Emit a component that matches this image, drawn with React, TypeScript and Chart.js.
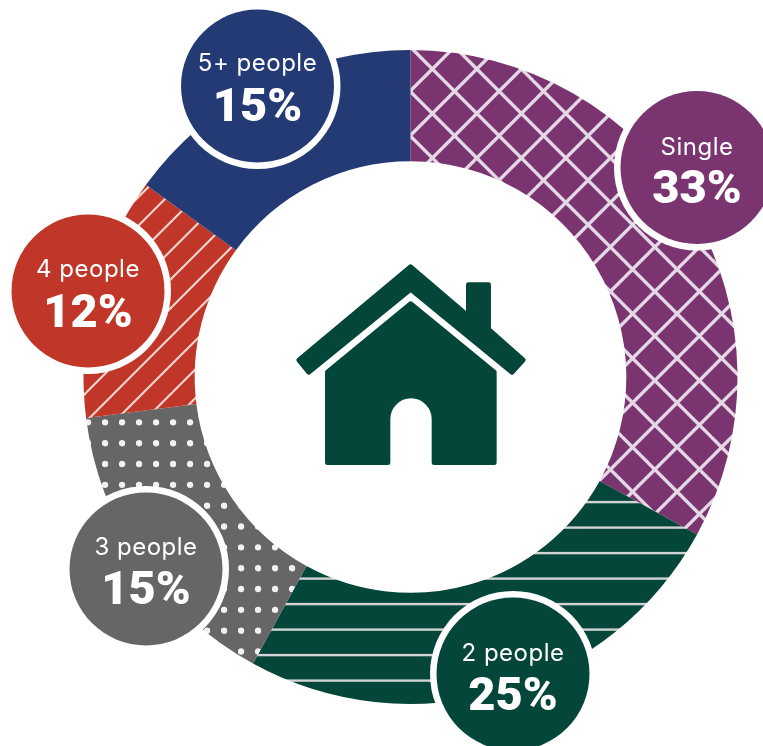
import React, { useEffect, useRef } from "react";
import { Chart, registerables } from "chart.js";

Chart.register(...registerables);

const categories = ["Single", "2 people", "3 people", "4 people", "5+ people"];
const shares = [33, 25, 15, 12, 15];
const colors = ["#7A3571", "#05463A", "#666666", "#C03629", "#243A75"];

const WIDTH = 763;
const HEIGHT = 746;

// Callout discs, in the order of the categories.
const discX = [697, 513, 146, 88, 257.5];
const discY = [167.5, 674, 569, 291, 86];
const labelDy = [-12.5, -13, -14, -14, -15];
const percentDy = [35.5, 36, 35, 36, 35];

function tile(
  w: number,
  h: number,
  base: string,
  paint: (c: CanvasRenderingContext2D) => void
): CanvasPattern {
  const cv = document.createElement("canvas");
  cv.width = w;
  cv.height = h;
  const c = cv.getContext("2d") as CanvasRenderingContext2D;
  c.fillStyle = base;
  c.fillRect(0, 0, w, h);
  paint(c);
  return c.createPattern(cv, "repeat") as CanvasPattern;
}

// Parallel 45-degree lines over a square tile; each line overshoots the tile so it wraps cleanly.
function diagonals(c: CanvasRenderingContext2D, size: number, step: number, offset: number, rising: boolean) {
  const dir = rising ? -1 : 1;
  for (let v = offset - size * 4; v < size * 5; v += step) {
    c.beginPath();
    c.moveTo(v - dir * size, -size);
    c.lineTo(v + dir * size * 2, size * 2);
    c.stroke();
  }
}

function makeFills(): CanvasPattern[] {
  const lattice = tile(89, 89, colors[0], (c) => {
    c.strokeStyle = "#E5D8E6";
    c.lineWidth = 3.4;
    diagonals(c, 89, 44.5, 11.8, true);
    diagonals(c, 89, 44.5, 7.3, false);
  });
  const rows = tile(40, 51, colors[1], (c) => {
    c.fillStyle = "#D2D4D3";
    c.fillRect(0, 16.4, 40, 2.4);
    c.fillRect(0, 41.9, 40, 2.4);
  });
  const dots = tile(17, 125, colors[2], (c) => {
    c.fillStyle = "#F2F2F2";
    for (let i = 0; i < 6; i++) {
      c.beginPath();
      c.arc(3, 5.7 + i * (125 / 6), 3.2, 0, Math.PI * 2);
      c.fill();
    }
  });
  const hatch = tile(86, 86, colors[3], (c) => {
    c.strokeStyle = "#F1D6D0";
    c.lineWidth = 2.1;
    diagonals(c, 86, 86 / 3, 20.1, true);
  });
  return [lattice, rows, dots, hatch, colors[4] as unknown as CanvasPattern];
}

// House pictogram in the hole of the ring.
function drawHouse(c: CanvasRenderingContext2D) {
  c.save();
  c.translate(280, 250);
  c.scale(1 / 3, 1 / 3);
  c.fillStyle = colors[1];
  c.strokeStyle = colors[1];
  c.lineJoin = "round";
  c.lineWidth = 14;

  const roof = new Path2D(
    "M392 50 L565 198 L565 104 L626 104 L626 238 L730 330 L696 367 L392 118 L86 367 L56 330 Z"
  );
  c.fill(roof);
  c.stroke(roof);

  const body = new Path2D(
    "M392 161 L643 366 L643 638 L462 638 L462 507 A69 69 0 0 0 324 507 L324 638 L142 638 L142 366 Z"
  );
  c.fill(body);
  c.stroke(body);
  c.restore();
}

const overlay = {
  id: "overlay",
  afterDatasetsDraw(chart: Chart) {
    const c = chart.ctx as CanvasRenderingContext2D & { letterSpacing: string };
    c.save();
    drawHouse(c);
    categories.forEach((name, i) => {
      c.beginPath();
      c.arc(discX[i], discY[i], 83, 0, Math.PI * 2);
      c.fillStyle = "#FFFFFF";
      c.fill();
      c.beginPath();
      c.arc(discX[i], discY[i], 76.5, 0, Math.PI * 2);
      c.fillStyle = colors[i];
      c.fill();

      c.fillStyle = "#FFFFFF";
      c.textAlign = "center";
      c.textBaseline = "alphabetic";
      c.font = "400 24px Inter";
      c.letterSpacing = "0.5px";
      c.fillText(name, discX[i], discY[i] + labelDy[i]);
      c.font = "900 47px Roboto";
      c.letterSpacing = "0px";
      c.fillText(`${shares[i]}%`, discX[i], discY[i] + percentDy[i]);
    });
    c.restore();
  },
};

export default function App() {
  const ref = useRef<HTMLCanvasElement>(null);

  useEffect(() => {
    if (!ref.current) return;
    const chart = new Chart(ref.current, {
      type: "doughnut",
      data: {
        labels: categories,
        datasets: [
          {
            data: shares,
            backgroundColor: makeFills(),
            borderWidth: 0,
            hoverOffset: 0,
          },
        ],
      },
      options: {
        animation: false,
        responsive: false,
        devicePixelRatio: 1,
        cutout: "66%",
        layout: { padding: { left: 83.5, right: 25.5, top: 50, bottom: 42 } },
        plugins: { legend: { display: false }, tooltip: { enabled: false } },
      },
      plugins: [overlay],
    });
    return () => chart.destroy();
  }, []);

  return (
    <canvas
      ref={ref}
      width={WIDTH}
      height={HEIGHT}
      style={{ position: "absolute", left: 0, top: 0, display: "block", width: WIDTH, height: HEIGHT }}
    />
  );
}
